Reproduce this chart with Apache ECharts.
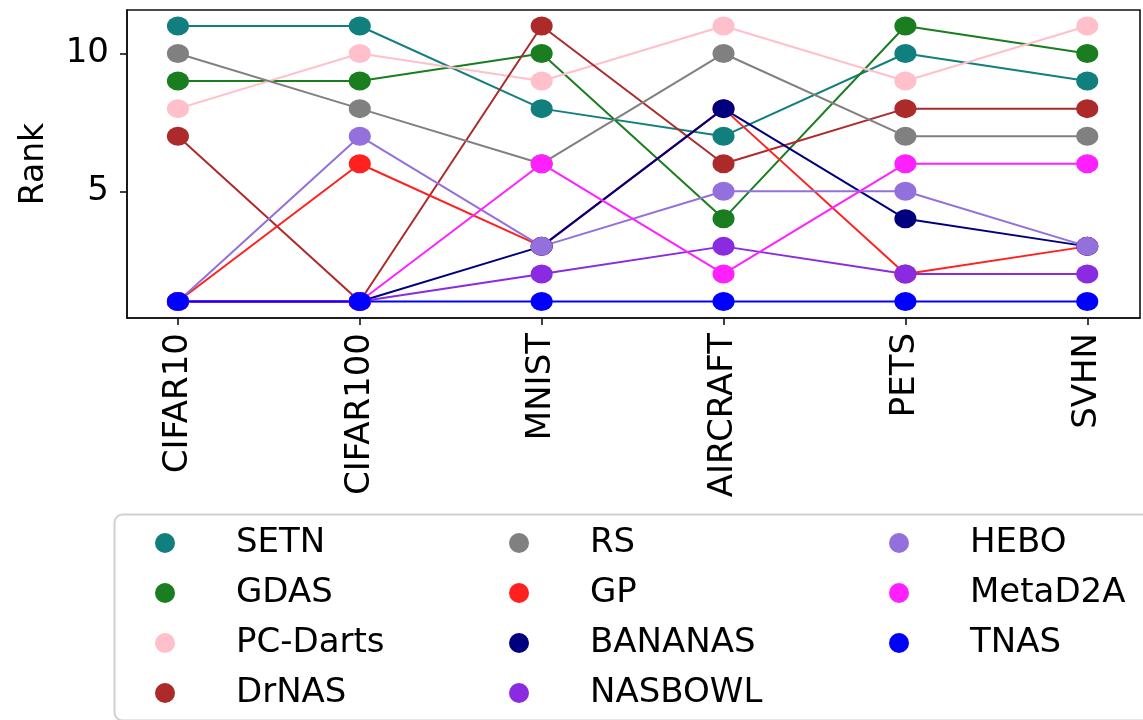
<!DOCTYPE html>
<html>
<head>
<meta charset="utf-8">
<script src="https://cdn.jsdelivr.net/npm/echarts@6/dist/echarts.min.js"></script>
<style>
  html, body { margin: 0; padding: 0; background: #fff; }
  #chart { width: 1143px; height: 720px; }
</style>
</head>
<body>
<div id="chart"></div>
<script>
// Datasets on the x axis
const datasets = ['CIFAR10', 'CIFAR100', 'MNIST', 'AIRCRAFT', 'PETS', 'SVHN'];

// Rank of each method on each dataset
const SETN     = [11, 11, 8, 7, 10, 9];
const GDAS     = [9, 9, 10, 4, 11, 10];
const PCDarts  = [8, 10, 9, 11, 9, 11];
const DrNAS    = [7, 1, 11, 6, 8, 8];
const RS       = [10, 8, 6, 10, 7, 7];
const GP       = [1, 6, 3, 8, 2, 3];
const BANANAS  = [1, 1, 3, 8, 4, 3];
const NASBOWL  = [1, 1, 2, 3, 2, 2];
const HEBO     = [1, 7, 3, 5, 5, 3];
const MetaD2A  = [1, 1, 6, 2, 6, 6];
const TNAS     = [1, 1, 1, 1, 1, 1];

const yTicks = [5, 10];

const methods = [
  { name: 'SETN',     values: SETN,    color: '#127f7f' },
  { name: 'GDAS',     values: GDAS,    color: '#1a7d1f' },
  { name: 'PC-Darts', values: PCDarts, color: '#ffc0cb' },
  { name: 'DrNAS',    values: DrNAS,   color: '#ad2a2a' },
  { name: 'RS',       values: RS,      color: '#808080' },
  { name: 'GP',       values: GP,      color: '#ff2020' },
  { name: 'BANANAS',  values: BANANAS, color: '#00007f' },
  { name: 'NASBOWL',  values: NASBOWL, color: '#8a2be2' },
  { name: 'HEBO',     values: HEBO,    color: '#9370db' },
  { name: 'MetaD2A',  values: MetaD2A, color: '#ff20ff' },
  { name: 'TNAS',     values: TNAS,    color: '#0000ff' }
];

// slightly wide dot used for markers and legend icons
const dot = 'path://M0,10 A10,10 0 1 0 20,10 A10,10 0 1 0 0,10 Z';
const FONT = 'DejaVu Sans';

const series = methods.map(m => ({
  name: m.name,
  type: 'line',
  data: m.values.map((v, i) => [i, v]),
  symbol: dot,
  symbolSize: [22, 19],
  symbolKeepAspect: false,
  lineStyle: { color: m.color, width: 2 },
  itemStyle: { color: m.color, opacity: 1 },
  emphasis: { disabled: true }
}));

const legendCols = [
  { left: 155, names: ['SETN', 'GDAS', 'PC-Darts', 'DrNAS'] },
  { left: 509, names: ['RS', 'GP', 'BANANAS', 'NASBOWL'] },
  { left: 889, names: ['HEBO', 'MetaD2A', 'TNAS'] }
];

const legends = legendCols.map(c => ({
  show: true,
  orient: 'vertical',
  left: c.left,
  top: 526,
  padding: 0,
  itemGap: 16,
  itemWidth: 22,
  itemHeight: 20,
  icon: dot,
  selectedMode: false,
  data: c.names,
  textStyle: {
    fontFamily: FONT,
    fontSize: 34,
    lineHeight: 34,
    color: '#000',
    padding: [0, 0, 0, 55]
  }
}));

const chart = echarts.init(document.getElementById('chart'), null, { renderer: 'canvas' });
chart.setOption({
  animation: false,
  backgroundColor: '#fff',
  grid: {
    left: 127, right: 3, top: 10, bottom: 402,
    show: true, borderColor: '#111', borderWidth: 1.6, backgroundColor: 'transparent'
  },
  xAxis: {
    type: 'value',
    min: -0.28,
    max: 5.29,
    axisLine: { show: true, onZero: false, lineStyle: { color: '#111', width: 1.6 } },
    axisTick: { show: true, customValues: datasets.map((d, i) => i), length: 7, lineStyle: { color: '#111', width: 1.6 } },
    axisLabel: {
      customValues: datasets.map((d, i) => i),
      formatter: v => datasets[Math.round(v)] || '',
      rotate: 90,
      margin: 15,
      fontFamily: FONT,
      fontSize: 34,
      color: '#000'
    },
    splitLine: { show: false }
  },
  yAxis: {
    type: 'value',
    min: 0.4,
    max: 11.58,
    name: 'Rank',
    nameLocation: 'middle',
    nameRotate: 90,
    nameGap: 76,
    nameTextStyle: { fontFamily: FONT, fontSize: 33, color: '#000' },
    axisLine: { show: true, onZero: false, lineStyle: { color: '#111', width: 1.6 } },
    axisTick: { show: true, customValues: yTicks, length: 7, lineStyle: { color: '#111', width: 1.6 } },
    axisLabel: {
      customValues: yTicks,
      margin: 18,
      fontFamily: FONT,
      fontSize: 34,
      color: '#000'
    },
    splitLine: { show: false }
  },
  legend: legends,
  graphic: [{
    type: 'rect',
    left: 112, top: 512,
    shape: { width: 1100, height: 206, r: 8 },
    style: { fill: 'none', stroke: '#d0d0d0', lineWidth: 2 },
    z: 0
  }],
  series: series
});
</script>
</body>
</html>
